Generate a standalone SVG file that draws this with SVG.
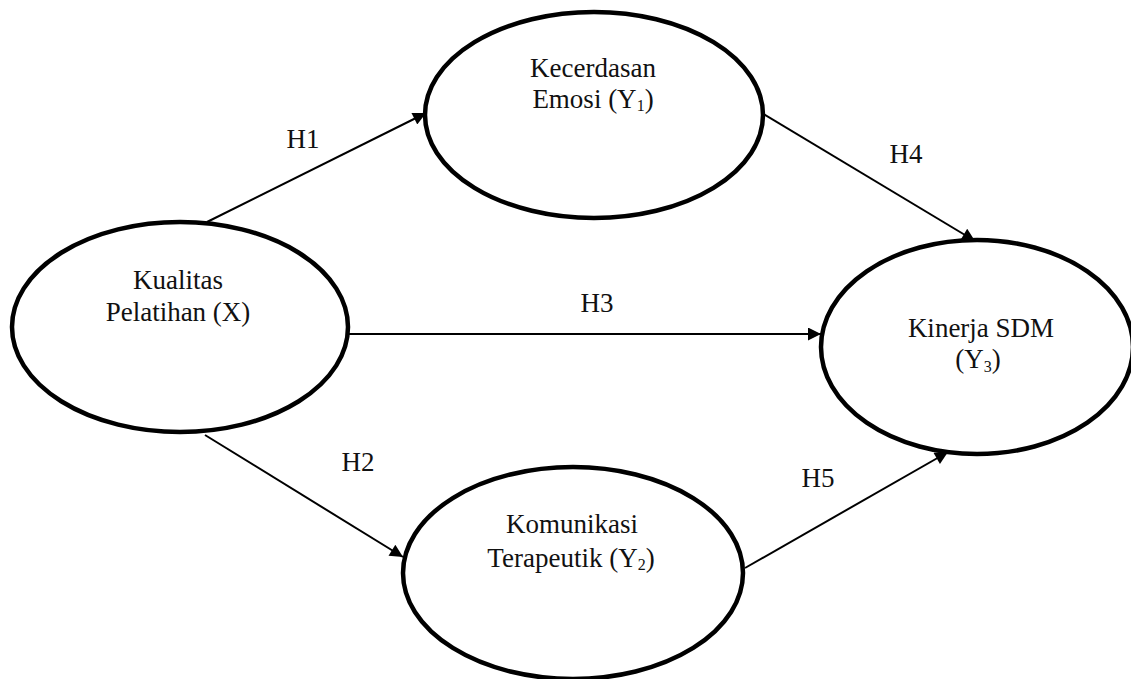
<svg xmlns="http://www.w3.org/2000/svg" width="1131" height="679" viewBox="0 0 1131 679">
<style>
.node{fill:#fff;stroke:#000;stroke-width:4.5}
.lbl{font-family:"Liberation Serif","DejaVu Serif",serif;font-size:27px;fill:#111;text-anchor:middle}
.edge{stroke:#000;stroke-width:2;fill:none;marker-end:url(#arr)}
.sub{font-size:16px}
</style>
<defs>
<marker id="arr" viewBox="0 0 10 10" refX="10" refY="5" markerWidth="8.5" markerHeight="6.5" markerUnits="strokeWidth" orient="auto">
<path d="M0,0 L10,5 L0,10 z" fill="#000"/>
</marker>
</defs>
<rect width="1131" height="679" fill="#fff"/>
<g id="connectors">
<line class="edge" x1="207" y1="222" x2="426" y2="113"/>
<line class="edge" x1="205" y1="435" x2="403" y2="557"/>
<line class="edge" x1="347" y1="334" x2="821" y2="334"/>
<line class="edge" x1="762" y1="113" x2="975" y2="241"/>
<line class="edge" x1="745" y1="568" x2="948" y2="452"/>
<text class="lbl" x="303" y="148">H1</text>
<text class="lbl" x="358" y="471">H2</text>
<text class="lbl" x="597" y="312">H3</text>
<text class="lbl" x="906" y="163">H4</text>
<text class="lbl" x="818" y="487">H5</text>
</g>
<g id="node-x">
<ellipse class="node" cx="180" cy="327" rx="168" ry="105"/>
<text class="lbl" x="178" y="289">Kualitas</text>
<text class="lbl" x="178" y="321">Pelatihan (X)</text>
</g>
<g id="node-y1">
<ellipse class="node" cx="594" cy="115" rx="169" ry="103"/>
<text class="lbl" x="593" y="77">Kecerdasan</text>
<text class="lbl" x="593" y="108">Emosi (Y<tspan class="sub" dy="3">1</tspan><tspan dy="-3">)</tspan></text>
</g>
<g id="node-y2">
<ellipse class="node" cx="573" cy="573" rx="170" ry="106"/>
<text class="lbl" x="572" y="533">Komunikasi</text>
<text class="lbl" x="571" y="567">Terapeutik (Y<tspan class="sub" dy="3">2</tspan><tspan dy="-3">)</tspan></text>
</g>
<g id="node-y3">
<ellipse class="node" cx="977" cy="347" rx="156" ry="107"/>
<text class="lbl" x="981" y="337">Kinerja SDM</text>
<text class="lbl" x="978" y="368">(Y<tspan class="sub" dy="4">3</tspan><tspan dy="-4">)</tspan></text>
</g>
</svg>
